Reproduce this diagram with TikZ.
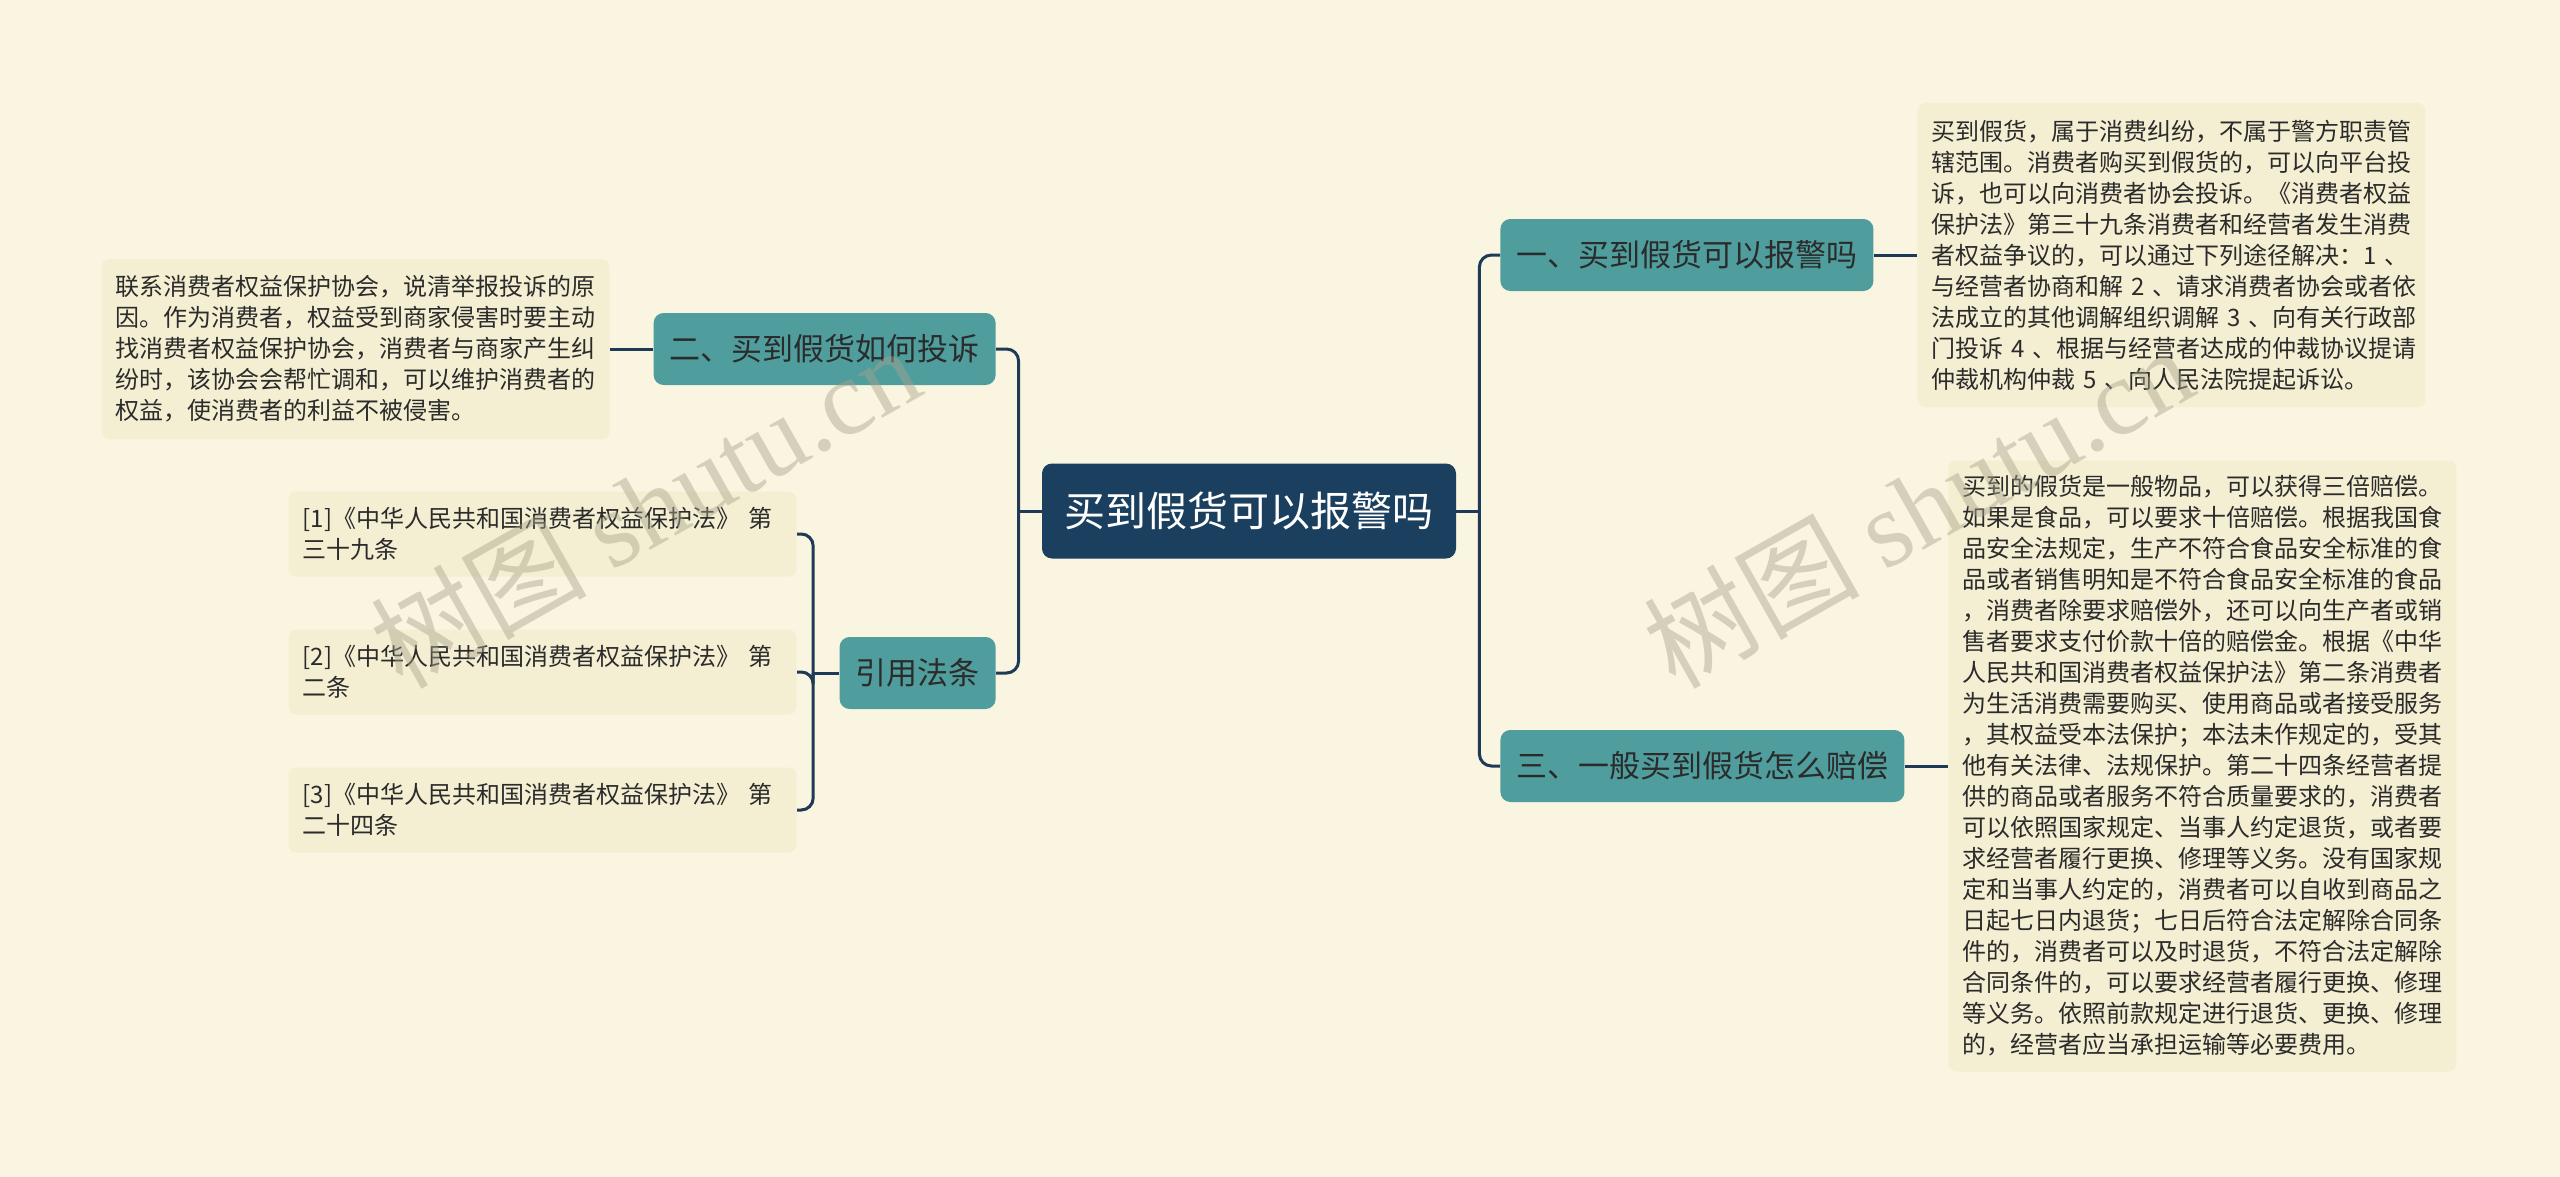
\documentclass[tikz,border=0pt]{standalone}
\usepackage{fontspec}
\setmainfont{Noto Sans CJK SC}
\newfontfamily\markserif{Liberation Serif}
\usetikzlibrary{calc}
\definecolor{PaperCream}{HTML}{FAF5E1}
\definecolor{NoteCream}{HTML}{F4EED2}
\definecolor{RootNavy}{HTML}{1B3F5E}
\definecolor{BranchTeal}{HTML}{4F9D9D}
\definecolor{LinkNavy}{HTML}{1E3A56}
\definecolor{Ink}{HTML}{2B2B2B}
\definecolor{MarkGrey}{HTML}{A8A38C}

\begin{document}
\begin{tikzpicture}[x=0.5pt,y=-0.5pt,
  rootnode/.style={fill=RootNavy,rounded corners=5pt,text=white,font=\fontsize{20.5}{24}\selectfont,minimum width=207pt,minimum height=47.5pt,inner sep=0pt},
  branch/.style={fill=BranchTeal,rounded corners=5pt,text=Ink,font=\fontsize{15.5}{18}\selectfont,minimum height=36pt,inner xsep=8pt,inner ysep=0pt},
  note/.style={fill=NoteCream,rounded corners=4pt,text=Ink,font=\fontsize{12}{15.5}\selectfont,align=left,text width=240pt,inner xsep=7pt,inner ysep=0pt},
  refnote/.style={note,minimum height=42.5pt},
  link/.style={draw=LinkNavy,line width=1.5pt},
  watermark/.style={text=MarkGrey,opacity=0.45,font=\fontsize{54}{60}\selectfont,rotate=29.5}
]
\fill[PaperCream] (0,0) rectangle (2560,1177);
\useasboundingbox (0,0) rectangle (2560,1177);
\node[rootnode] (root) at (1249,511) {买到假货可以报警吗};
\node[branch,anchor=west] (b1) at (1500,255) {一、买到假货可以报警吗};
\node[branch,anchor=west] (b3) at (1500,766) {三、一般买到假货怎么赔偿};
\node[branch,anchor=east] (b2) at (996,349) {二、买到假货如何投诉};
\node[branch,anchor=east] (bref) at (996,673) {引用法条};
\node[note,anchor=west,minimum height=152pt] (n1) at (1917,255) {
  买到假货，属于消费纠纷，不属于警方职责管\\
  辖范围。消费者购买到假货的，可以向平台投\\
  诉，也可以向消费者协会投诉。《消费者权益\\
  保护法》第三十九条消费者和经营者发生消费\\
  者权益争议的，可以通过下列途径解决：1~、\\
  与经营者协商和解~2~、请求消费者协会或者依\\
  法成立的其他调解组织调解~3~、向有关行政部\\
  门投诉~4~、根据与经营者达成的仲裁协议提请\\
  仲裁机构仲裁~5~、向人民法院提起诉讼。
};
\node[note,anchor=west,minimum height=305.5pt] (n3) at (1948,766) {
  买到的假货是一般物品，可以获得三倍赔偿。\\
  如果是食品，可以要求十倍赔偿。根据我国食\\
  品安全法规定，生产不符合食品安全标准的食\\
  品或者销售明知是不符合食品安全标准的食品\\
  ，消费者除要求赔偿外，还可以向生产者或销\\
  售者要求支付价款十倍的赔偿金。根据《中华\\
  人民共和国消费者权益保护法》第二条消费者\\
  为生活消费需要购买、使用商品或者接受服务\\
  ，其权益受本法保护；本法未作规定的，受其\\
  他有关法律、法规保护。第二十四条经营者提\\
  供的商品或者服务不符合质量要求的，消费者\\
  可以依照国家规定、当事人约定退货，或者要\\
  求经营者履行更换、修理等义务。没有国家规\\
  定和当事人约定的，消费者可以自收到商品之\\
  日起七日内退货；七日后符合法定解除合同条\\
  件的，消费者可以及时退货，不符合法定解除\\
  合同条件的，可以要求经营者履行更换、修理\\
  等义务。依照前款规定进行退货、更换、修理\\
  的，经营者应当承担运输等必要费用。
};
\node[note,anchor=east,minimum height=90pt] (n2) at (610,349) {
  联系消费者权益保护协会，说清举报投诉的原\\
  因。作为消费者，权益受到商家侵害时要主动\\
  找消费者权益保护协会，消费者与商家产生纠\\
  纷时，该协会会帮忙调和，可以维护消费者的\\
  权益，使消费者的利益不被侵害。
};
\node[refnote,anchor=east] (ref1) at (797,534) {[1]《中华人民共和国消费者权益保护法》~第\\三十九条};
\node[refnote,anchor=east] (ref2) at (797,672) {[2]《中华人民共和国消费者权益保护法》~第\\二条};
\node[refnote,anchor=east] (ref3) at (797,810) {[3]《中华人民共和国消费者权益保护法》~第\\二十四条};
\draw[link] (root.east) -- ++(23,0) coordinate (rfork);
\draw[link,rounded corners=6pt] (rfork) |- (b1.west);
\draw[link,rounded corners=6pt] (rfork) |- (b3.west);
\draw[link] (b1.east) -- (n1.west);
\draw[link] (b3.east) -- (n3.west);
\draw[link] (root.west) -- ++(-23,0) coordinate (lfork);
\draw[link,rounded corners=6pt] (lfork) |- (b2.east);
\draw[link,rounded corners=6pt] (lfork) |- (bref.east);
\draw[link] (b2.west) -- (n2.east);
\draw[link] (bref.west) -- ++(-26,0) coordinate (cfork);
\draw[link,rounded corners=6pt] (cfork) |- (ref1.east);
\draw[link,rounded corners=6pt] (cfork) |- (ref2.east);
\draw[link,rounded corners=6pt] (cfork) |- (ref3.east);
\node[watermark] (markleft) at (645,506) {树图 {\markserif shutu.cn}};
\node[watermark] (markright) at (1918,506) {树图 {\markserif shutu.cn}};
\end{tikzpicture}
\end{document}
